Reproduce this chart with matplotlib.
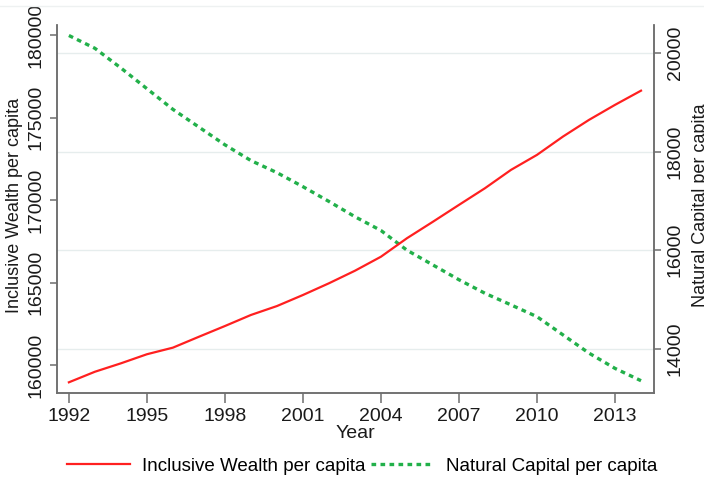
import matplotlib.pyplot as plt
from matplotlib.lines import Line2D

plt.rcParams["font.family"] = ["Liberation Sans", "DejaVu Sans"]

# series, one value per year
years = list(range(1992, 2015))
inclusive_wealth = [158970, 159610, 160120, 160670, 161070, 161730, 162380, 163050,
                    163590, 164260, 164970, 165730, 166580, 167700, 168700, 169720,
                    170730, 171840, 172750, 173860, 174870, 175780, 176640]
natural_capital = [20360, 20100, 19700, 19280, 18860, 18500, 18140, 17820,
                   17575, 17290, 16990, 16680, 16400, 16000, 15700, 15400,
                   15125, 14890, 14650, 14280, 13910, 13600, 13350]

x_ticks = list(range(1992, 2014, 3))
left_ticks = [160000, 165000, 170000, 175000, 180000]
right_ticks = [14000, 16000, 18000, 20000]

red = "#ff2020"
green = "#22b04a"
axis_grey = "#6e6e6e"

fig = plt.figure(figsize=(7.04, 4.79), dpi=100)
ax = fig.add_axes([0.0805, 0.1795, 0.8485, 0.7685])
ax2 = ax.twinx()

l1, = ax.plot(years, inclusive_wealth, color=red, lw=1.6,
              label="Inclusive Wealth per capita", zorder=3)
l2, = ax2.plot(years, natural_capital, color=green, lw=2.4,
               linestyle=(0, (1.4, 1.3)), label="Natural Capital per capita", zorder=3)

ax.set_xlim(1991.53, 2014.5)
ax.set_ylim(158321, 180624)
ax2.set_ylim(13100, 20575)

ax.set_xticks(x_ticks)
ax.set_yticks(left_ticks)
ax2.set_yticks(right_ticks)
ax.set_yticklabels([str(t) for t in left_ticks], rotation=90, va="center")
ax2.set_yticklabels([str(t) for t in right_ticks], rotation=90, va="center")

# light horizontal grid on the right-hand scale
ax2.grid(axis="y", color="#e6eded", lw=1.0)
ax2.set_axisbelow(True)
ax.set_zorder(ax2.get_zorder() + 1)
ax.patch.set_visible(False)

for a in (ax, ax2):
    a.spines["top"].set_visible(False)
    for s in ("left", "right", "bottom"):
        a.spines[s].set_color(axis_grey)
        a.spines[s].set_linewidth(1.1)
    a.tick_params(colors=axis_grey, labelcolor="#1a1a1a", labelsize=14,
                  length=5, width=1.1, pad=4)
ax.tick_params(axis="x", length=7, pad=4)

ax.set_xlabel("Year", fontsize=14, labelpad=0, color="#1a1a1a")
ax.set_ylabel("Inclusive Wealth per capita", fontsize=13, color="#1a1a1a")
ax.yaxis.set_label_coords(-0.056, 0.51)
ax2.set_ylabel("Natural Capital per capita", fontsize=13, color="#1a1a1a",
               rotation=90)
ax2.yaxis.set_label_coords(1.063, 0.51)

# thin frame line at the top of the graph region
fig.add_artist(Line2D([0, 1], [0.987, 0.987], transform=fig.transFigure,
                      color="#eef1f1", lw=1.0))

fig.legend(handles=[l1, l2], loc="center", bbox_to_anchor=(0.514, 0.027),
           ncol=2, frameon=False, fontsize=13.5, handlelength=3.4,
           handletextpad=0.6, columnspacing=0.3)

fig.savefig("out.png", dpi=100)
